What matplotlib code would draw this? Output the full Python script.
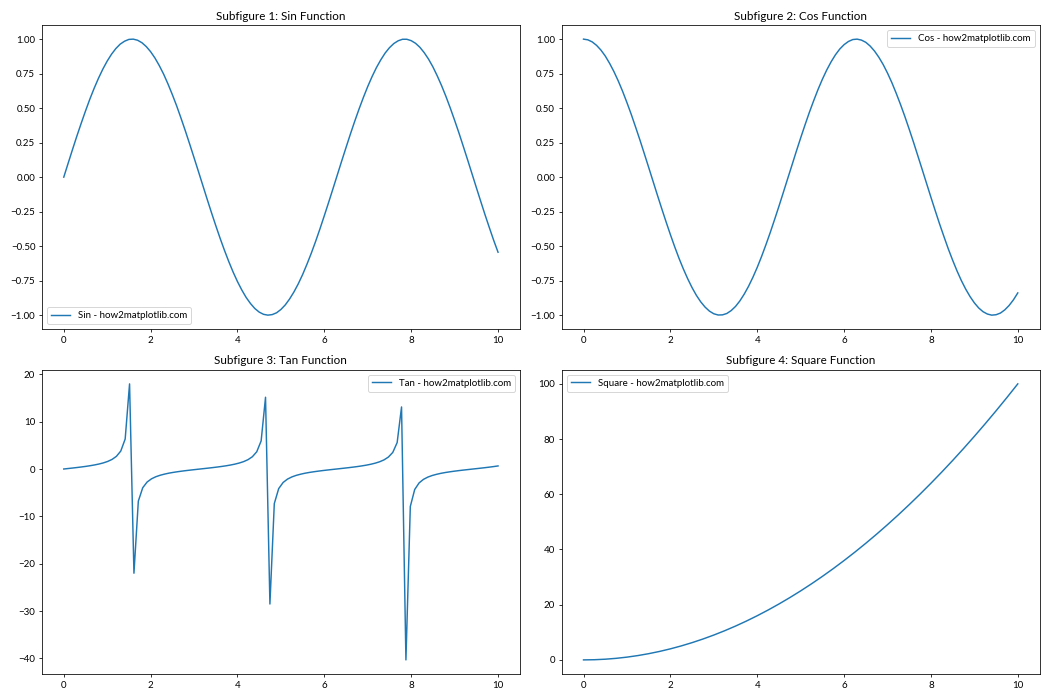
import matplotlib
matplotlib.use('Agg')
import matplotlib.pyplot as plt

plt.rcParams['font.family'] = ['Lato', 'DejaVu Sans']

# x grid for sin / cos, read at 0.1 steps
x_smooth = [0.0, 0.1, 0.2, 0.3, 0.4, 0.5, 0.6, 0.7, 0.8, 0.9,
            1.0, 1.1, 1.2, 1.3, 1.4, 1.5, 1.6, 1.7, 1.8, 1.9,
            2.0, 2.1, 2.2, 2.3, 2.4, 2.5, 2.6, 2.7, 2.8, 2.9,
            3.0, 3.1, 3.2, 3.3, 3.4, 3.5, 3.6, 3.7, 3.8, 3.9,
            4.0, 4.1, 4.2, 4.3, 4.4, 4.5, 4.6, 4.7, 4.8, 4.9,
            5.0, 5.1, 5.2, 5.3, 5.4, 5.5, 5.6, 5.7, 5.8, 5.9,
            6.0, 6.1, 6.2, 6.3, 6.4, 6.5, 6.6, 6.7, 6.8, 6.9,
            7.0, 7.1, 7.2, 7.3, 7.4, 7.5, 7.6, 7.7, 7.8, 7.9,
            8.0, 8.1, 8.2, 8.3, 8.4, 8.5, 8.6, 8.7, 8.8, 8.9,
            9.0, 9.1, 9.2, 9.3, 9.4, 9.5, 9.6, 9.7, 9.8, 9.9, 10.0]

sin_vals = [0.0, 0.100, 0.199, 0.296, 0.389, 0.479, 0.565, 0.644, 0.717, 0.783,
            0.841, 0.891, 0.932, 0.964, 0.985, 0.998, 1.0, 0.992, 0.974, 0.946,
            0.909, 0.863, 0.808, 0.746, 0.675, 0.598, 0.516, 0.427, 0.335, 0.239,
            0.141, 0.042, -0.058, -0.158, -0.256, -0.351, -0.443, -0.530, -0.612, -0.688,
            -0.757, -0.818, -0.872, -0.916, -0.952, -0.978, -0.994, -1.0, -0.996, -0.983,
            -0.959, -0.926, -0.883, -0.832, -0.773, -0.706, -0.631, -0.551, -0.465, -0.374,
            -0.279, -0.182, -0.083, 0.017, 0.117, 0.215, 0.312, 0.405, 0.494, 0.578,
            0.657, 0.729, 0.794, 0.850, 0.899, 0.938, 0.968, 0.988, 0.999, 0.999,
            0.989, 0.970, 0.941, 0.902, 0.855, 0.799, 0.734, 0.663, 0.585, 0.501,
            0.412, 0.320, 0.223, 0.125, 0.025, -0.075, -0.174, -0.272, -0.366, -0.458, -0.544]

cos_vals = [1.0, 0.995, 0.980, 0.955, 0.921, 0.878, 0.825, 0.765, 0.697, 0.622,
            0.540, 0.454, 0.362, 0.268, 0.170, 0.071, -0.029, -0.129, -0.227, -0.323,
            -0.416, -0.505, -0.589, -0.666, -0.737, -0.801, -0.857, -0.904, -0.942, -0.971,
            -0.990, -0.999, -0.998, -0.988, -0.967, -0.937, -0.897, -0.848, -0.791, -0.726,
            -0.654, -0.575, -0.490, -0.401, -0.307, -0.211, -0.112, -0.012, 0.087, 0.187,
            0.284, 0.378, 0.469, 0.554, 0.635, 0.709, 0.776, 0.835, 0.886, 0.928,
            0.960, 0.983, 0.997, 1.0, 0.993, 0.977, 0.950, 0.914, 0.869, 0.816,
            0.754, 0.685, 0.608, 0.526, 0.439, 0.347, 0.252, 0.153, 0.054, -0.046,
            -0.146, -0.244, -0.340, -0.431, -0.520, -0.602, -0.679, -0.749, -0.811, -0.865,
            -0.911, -0.948, -0.975, -0.992, -1.0, -0.997, -0.985, -0.962, -0.930, -0.889, -0.839]

# tan is sampled coarsely in the picture, so keep its own sample points
x_tan = [0.0, 0.101, 0.202, 0.303, 0.404, 0.505, 0.606, 0.707, 0.808, 0.909,
         1.010, 1.111, 1.212, 1.313, 1.414, 1.515, 1.616, 1.717, 1.818, 1.919,
         2.020, 2.121, 2.222, 2.323, 2.424, 2.525, 2.626, 2.727, 2.828, 2.929,
         3.030, 3.131, 3.232, 3.333, 3.434, 3.535, 3.636, 3.737, 3.838, 3.939,
         4.040, 4.141, 4.242, 4.343, 4.444, 4.545, 4.646, 4.747, 4.848, 4.949,
         5.051, 5.152, 5.253, 5.354, 5.455, 5.556, 5.657, 5.758, 5.859, 5.960,
         6.061, 6.162, 6.263, 6.364, 6.465, 6.566, 6.667, 6.768, 6.869, 6.970,
         7.071, 7.172, 7.273, 7.374, 7.475, 7.576, 7.677, 7.778, 7.879, 7.980,
         8.081, 8.182, 8.283, 8.384, 8.485, 8.586, 8.687, 8.788, 8.889, 8.990,
         9.091, 9.192, 9.293, 9.394, 9.495, 9.596, 9.697, 9.798, 9.899, 10.0]

tan_vals = [0.0, 0.101, 0.205, 0.313, 0.428, 0.552, 0.693, 0.855, 1.046, 1.283,
            1.592, 2.020, 2.670, 3.794, 6.33, 17.97, -22.0, -6.78, -3.96, -2.752,
            -2.073, -1.629, -1.313, -1.072, -0.870, -0.709, -0.567, -0.440, -0.324, -0.216,
            -0.112, -0.010, 0.091, 0.194, 0.301, 0.416, 0.540, 0.677, 0.837, 1.026,
            1.259, 1.557, 1.969, 2.591, 3.642, 5.935, 15.15, -28.5, -7.30, -4.14,
            -2.845, -2.130, -1.669, -1.341, -1.094, -0.889, -0.723, -0.581, -0.453, -0.335,
            -0.226, -0.122, -0.021, 0.081, 0.183, 0.290, 0.403, 0.526, 0.663, 0.820,
            1.005, 1.234, 1.525, 1.924, 2.52, 3.50, 5.58, 13.10, -40.3, -7.91,
            -4.33, -2.94, -2.187, -1.707, -1.369, -1.117, -0.908, -0.739, -0.595, -0.465,
            -0.347, -0.237, -0.133, -0.031, 0.070, 0.173, 0.279, 0.392, 0.514, 0.648]

x_sq = [0.0, 0.25, 0.5, 0.75, 1.0, 1.25, 1.5, 1.75, 2.0, 2.25,
        2.5, 2.75, 3.0, 3.25, 3.5, 3.75, 4.0, 4.25, 4.5, 4.75,
        5.0, 5.25, 5.5, 5.75, 6.0, 6.25, 6.5, 6.75, 7.0, 7.25,
        7.5, 7.75, 8.0, 8.25, 8.5, 8.75, 9.0, 9.25, 9.5, 9.75, 10.0]
sq_vals = [0.0, 0.0625, 0.25, 0.5625, 1.0, 1.5625, 2.25, 3.0625, 4.0, 5.0625,
           6.25, 7.5625, 9.0, 10.5625, 12.25, 14.0625, 16.0, 18.0625, 20.25, 22.5625,
           25.0, 27.5625, 30.25, 33.0625, 36.0, 39.0625, 42.25, 45.5625, 49.0, 52.5625,
           56.25, 60.0625, 64.0, 68.0625, 72.25, 76.5625, 81.0, 85.5625, 90.25, 95.0625, 100.0]

# 15x10 in at 70 dpi -> 1050x700, keeps the fonts small like the original
fig, axs = plt.subplots(2, 2, figsize=(15, 10), dpi=70)

axs[0, 0].plot(x_smooth, sin_vals, label='Sin - how2matplotlib.com')
axs[0, 0].set_title('Subfigure 1: Sin Function')
axs[0, 0].legend(loc='lower left')

axs[0, 1].plot(x_smooth, cos_vals, label='Cos - how2matplotlib.com')
axs[0, 1].set_title('Subfigure 2: Cos Function')
axs[0, 1].legend(loc='upper right')

axs[1, 0].plot(x_tan, tan_vals, label='Tan - how2matplotlib.com')
axs[1, 0].set_title('Subfigure 3: Tan Function')
axs[1, 0].legend(loc='upper right')

axs[1, 1].plot(x_sq, sq_vals, label='Square - how2matplotlib.com')
axs[1, 1].set_title('Subfigure 4: Square Function')
axs[1, 1].legend(loc='upper left')

plt.tight_layout()
plt.savefig('out.png')
